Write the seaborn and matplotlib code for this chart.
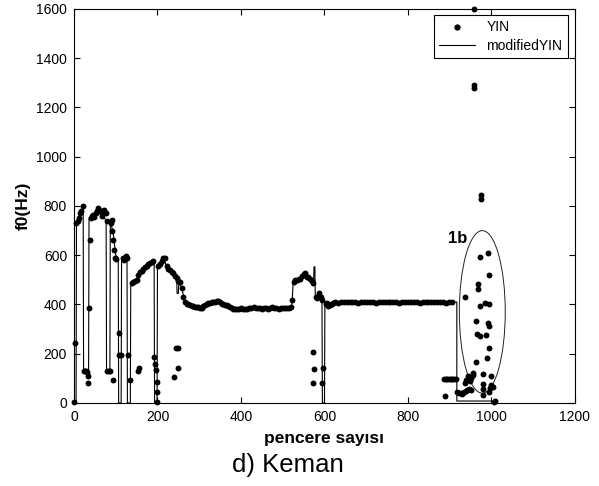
import matplotlib
matplotlib.use("Agg")
import matplotlib.pyplot as plt
import seaborn as sns
import pandas as pd
from matplotlib.patches import Ellipse
from matplotlib.lines import Line2D

# YIN pitch estimates per analysis window
yin_frames = [
    1, 3, 6, 9, 12, 15, 18, 21,
    23, 26, 29, 32, 34, 34,
    37, 38, 40, 43, 46, 49, 52, 55, 58, 61, 64, 67, 70, 73, 76, 78,
    80, 83, 86, 88, 90, 92, 94, 96, 98, 100, 94,
    108, 107, 112, 118, 121, 124, 126, 130, 133,
    138, 142, 146, 150, 154, 158, 162, 166, 170, 174, 178, 182, 186, 190, 153, 156,
    192, 193, 196, 198, 198, 199,
    202, 206, 210, 214, 218, 222, 226, 230, 234, 238, 242, 246, 250, 254, 258, 262, 266, 244, 249, 250, 240,
    270, 274, 278, 282, 286, 290, 294, 298, 302, 306, 310, 314, 318, 322, 326, 330,
    334, 338, 342, 346, 350, 354, 358, 362, 366, 370, 374, 378, 382, 386, 390,
    395, 400, 405, 410, 415, 420, 425, 430, 435, 440, 445, 450, 455,
    460, 465, 470, 475, 480, 485, 490, 495, 500, 505, 510, 515, 520,
    522, 526, 530, 534, 538, 542, 546, 550, 553, 557, 561, 565, 569, 573, 579, 583, 587, 591, 593,
    573, 575, 572, 597, 594,
    603, 606, 609, 613, 617, 621,
    625, 632, 639, 646, 653, 660, 667, 674, 681, 688,
    695, 702, 709, 716, 723, 730, 737, 744, 751, 758,
    765, 772, 779, 786, 793, 800, 807, 814, 821, 828,
    835, 842, 849, 856, 863, 870, 877, 884, 891, 898,
    905,
    886, 890, 894, 898, 902, 906, 910, 914, 889,
    918, 922, 926, 930, 934, 938, 942, 946, 950, 936, 940, 944, 948, 952, 956, 956,
    937, 968, 968, 972, 984, 995, 964, 991, 995, 966, 972, 987, 995, 963, 990,
    979, 998, 979, 979, 980, 995, 997, 1000, 1003, 1005, 1008, 972, 992, 995,
    974, 974, 958, 958, 958,
]
yin_f0 = [
    5, 245, 730, 740, 750, 770, 780, 800,
    130, 130, 128, 125, 110, 82,
    385, 660, 750, 760, 765, 755, 770, 780, 790, 785, 775, 760, 780, 785, 770, 740,
    130, 130, 130, 730, 745, 700, 660, 620, 590, 585, 95,
    285, 195, 195, 590, 580, 595, 590, 195, 93,
    487, 490, 495, 500, 520, 530, 535, 545, 553, 555, 565, 567, 572, 578, 130, 142,
    188, 160, 134, 87, 46, 5,
    555, 565, 575, 590, 587, 555, 545, 540, 530, 527, 515, 507, 495, 490, 466, 432, 411, 224, 224, 141, 107,
    404, 400, 398, 395, 393, 391, 389, 389, 386, 386, 392, 398, 403, 405, 407, 409,
    410, 411, 413, 413, 409, 404, 400, 398, 396, 393, 388, 384, 383, 381, 380,
    383, 385, 383, 381, 380, 384, 386, 389, 386, 384, 384, 383, 385,
    384, 383, 386, 388, 385, 384, 383, 386, 384, 385, 384, 386, 388,
    420, 492, 500, 498, 502, 505, 515, 522, 527, 513, 513, 502, 495, 486, 430, 425, 445, 430, 418,
    208, 137, 80, 141, 80,
    400, 405, 392, 398, 404, 406,
    410, 408, 411, 409, 410, 412, 409, 410, 408, 410,
    411, 409, 410, 410, 408, 411, 410, 409, 410, 412,
    410, 409, 408, 410, 411, 410, 409, 410, 410, 408,
    411, 410, 409, 410, 412, 410, 409, 410, 408, 410,
    410,
    96, 96, 96, 96, 96, 96, 96, 96, 30,
    45, 40, 42, 38, 45, 50, 52, 55, 53, 80, 95, 110, 90, 100, 113, 120,
    432, 483, 462, 392, 407, 402, 334, 324, 314, 280, 272, 276, 222, 168, 181,
    118, 110, 76, 55, 32, 45, 60, 75, 65, 5, 8, 592, 608, 520,
    844, 828, 1291, 1278, 1600,
]

# Modified YIN pitch track
modified_frames = [
    0, 5, 6, 14, 22, 23, 35, 36, 46, 56, 66, 77, 78, 86, 87, 94, 100, 106,
    107, 113, 114, 122, 127, 128, 135, 136, 150, 166, 182, 192, 193, 199,
    200, 214, 222, 238, 246, 247, 250, 251, 258, 266, 278, 298, 314, 346,
    370, 390, 430, 477, 521, 523, 525, 541, 553, 569, 574, 575, 577, 578,
    589, 594, 595, 600, 601, 609, 625, 700, 800, 905, 917, 917, 1000, 1005,
]
modified_f0 = [
    0, 0, 730, 760, 800, 130, 130, 750, 765, 780, 770, 740, 130, 130, 740, 690, 600, 590,
    0, 0, 590, 590, 580, 0, 0, 487, 500, 540, 567, 578, 0, 0,
    560, 590, 555, 527, 505, 445, 445, 490, 466, 411, 398, 389, 398, 413,
    393, 382, 387, 386, 386, 425, 490, 503, 525, 497, 490, 553, 553, 430,
    440, 418, 0, 0, 405, 395, 408, 410, 410, 410, 410, 8, 8, 5,
]

x_ticks = [0, 200, 400, 600, 800, 1000, 1200]
y_ticks = [0, 200, 400, 600, 800, 1000, 1200, 1400, 1600]

sns.set_style("ticks", {"xtick.direction": "in", "ytick.direction": "in",
                        "text.color": "black", "axes.labelcolor": "black",
                        "xtick.color": "black", "ytick.color": "black",
                        "axes.edgecolor": "black"})
plt.rcParams["font.family"] = ["Liberation Sans", "DejaVu Sans"]

fig = plt.figure(figsize=(5.99, 4.86), dpi=100)
ax = fig.add_axes([0.1235, 0.1708, 0.8364, 0.8107])

yin = pd.DataFrame({"frame": yin_frames, "f0": yin_f0})
modified = pd.DataFrame({"frame": modified_frames, "f0": modified_f0})

sns.lineplot(data=modified, x="frame", y="f0", sort=False, estimator=None,
             color="black", linewidth=0.8, ax=ax, zorder=2)
sns.scatterplot(data=yin, x="frame", y="f0", color="black", s=18,
                linewidth=0, ax=ax, zorder=3, clip_on=False)

# outline of the unstable region near the end
ax.add_patch(Ellipse((978, 370), 110, 660, fill=False, edgecolor="#222222", linewidth=0.7))
ax.text(896, 666, "1b", fontsize=12, fontweight="bold", color="black",
        ha="left", va="center")

ax.set_xlim(0, 1200)
ax.set_ylim(0, 1600)
ax.set_xticks(x_ticks)
ax.set_yticks(y_ticks)
ax.tick_params(direction="in", top=True, right=True, length=4, width=0.8,
               labelsize=10, colors="black", pad=5)
for spine in ax.spines.values():
    spine.set_visible(True)
    spine.set_color("black")
    spine.set_linewidth(0.8)

ax.set_xlabel("pencere sayısı", fontsize=12.5, fontweight="bold", color="black", labelpad=5)
ax.set_ylabel("f0(Hz)", fontsize=12.5, fontweight="bold", color="black", labelpad=4)

handles = [
    Line2D([], [], marker="o", linestyle="none", color="black", markersize=3.5),
    Line2D([], [], color="black", linewidth=0.8),
]
leg = ax.legend(handles, ["YIN", "modifiedYIN"], loc="upper right",
                bbox_to_anchor=(0.986, 0.985), frameon=True, fancybox=False,
                edgecolor="black", framealpha=1, fontsize=10, handlelength=2.6,
                borderpad=0.4, labelspacing=0.3, handletextpad=0.8, borderaxespad=0)
leg.get_frame().set_linewidth(0.8)
for t in leg.get_texts():
    t.set_color("black")

fig.text(0.48, 1 - 465 / 486, "d) Keman", fontsize=18.5, color="black",
         ha="center", va="center")

fig.savefig("out.png", dpi=100)
